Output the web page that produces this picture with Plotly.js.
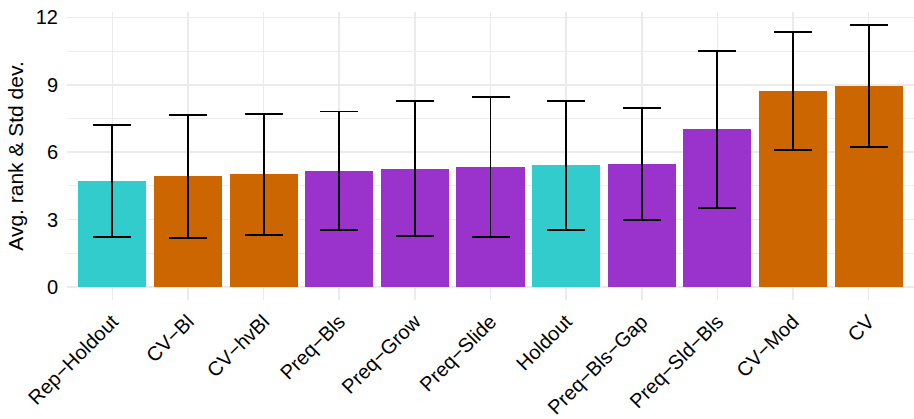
<!DOCTYPE html>
<html>
<head>
<meta charset="utf-8">
<script src="https://cdn.plot.ly/plotly-3.0.1.min.js"></script>
<style>html,body{margin:0;padding:0;background:#fff;}#chart{width:914px;height:419px;}</style>
</head>
<body>
<div id="chart"></div>
<script>
const categories = ["Rep\u2212Holdout","CV\u2212Bl","CV\u2212hvBl","Preq\u2212Bls","Preq\u2212Grow","Preq\u2212Slide","Holdout","Preq\u2212Bls\u2212Gap","Preq\u2212Sld\u2212Bls","CV\u2212Mod","CV"];
const avgRank = [4.71, 4.92, 5.01, 5.18, 5.26, 5.34, 5.41, 5.48, 7.01, 8.73, 8.94];
const stdDev = [2.49, 2.75, 2.70, 2.63, 3.00, 3.13, 2.87, 2.48, 3.49, 2.63, 2.72];
const groups = ["Holdout","CV","CV","Preq","Preq","Preq","Holdout","Preq","Preq","CV","CV"];
const groupColors = {"Holdout":"#33CCCC","CV":"#CC6600","Preq":"#9933CC"};
const yTicks = [0, 3, 6, 9, 12];

const trace = {
  type: "bar",
  x: categories.map((c, i) => i),
  y: avgRank,
  width: 0.9,
  marker: {color: groups.map(g => groupColors[g]), line: {width: 0}},
  error_y: {type: "data", array: stdDev, visible: true, color: "#000000", thickness: 1.9, width: 19},
  hoverinfo: "skip"
};

const layout = {
  width: 914, height: 419,
  margin: {l: 67, r: 0, t: 12, b: 119},
  paper_bgcolor: "#ffffff", plot_bgcolor: "#ffffff",
  font: {family: "Liberation Sans, Arial, Helvetica, sans-serif", color: "#000000", size: 20},
  showlegend: false,
  bargap: 0,
  xaxis: {
    range: [-0.6, 10.6],
    tickmode: "array",
    tickvals: categories.map((c, i) => i),
    ticktext: categories,
    tickangle: -45,
    tickfont: {size: 20, color: "#000000"},
    showgrid: true, gridcolor: "#ebebeb", gridwidth: 1.6,
    zeroline: false, showline: false, ticks: "",
    ticklabelstandoff: 5,
    fixedrange: true
  },
  yaxis: {
    range: [-0.58, 12.24],
    tickmode: "array",
    tickvals: yTicks,
    ticktext: yTicks.map(String),
    tickfont: {size: 20, color: "#000000"},
    showgrid: true, gridcolor: "#ebebeb", gridwidth: 1.6,
    minor: {tickmode: "array", tickvals: [1.5, 4.5, 7.5, 10.5], showgrid: true, gridcolor: "#ebebeb", gridwidth: 0.9, ticks: ""},
    zeroline: false, showline: false, ticks: "",
    ticklabelstandoff: 8,
    title: {text: "Avg. rank & Std dev.", font: {size: 21, color: "#000000"}, standoff: 6},
    fixedrange: true
  }
};

Plotly.newPlot("chart", [trace], layout, {displayModeBar: false, staticPlot: true});
</script>
</body>
</html>
